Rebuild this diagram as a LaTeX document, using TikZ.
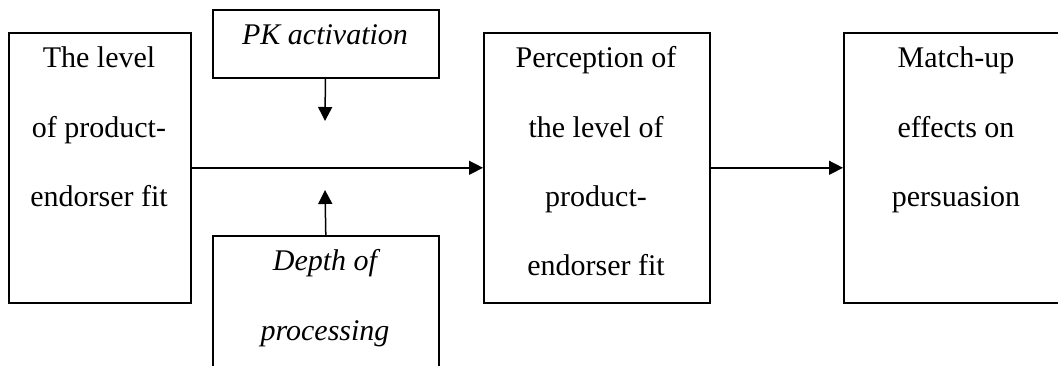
\documentclass[tikz,border=0pt]{standalone}
\usepackage{fontspec}
\setmainfont{Liberation Serif}
\usetikzlibrary{arrows.meta}
\tikzset{
  boxnode/.style={draw=black, line width=1.6pt, inner sep=0pt, anchor=north west},
  txt/.style={anchor=base, inner sep=0pt, font=\fontsize{30}{30}\selectfont},
  itxt/.style={txt, font=\fontsize{30}{30}\selectfont\itshape},
  conn/.style={line width=1.5pt, -{Triangle[length=14pt,width=14pt]}}
}
\begin{document}
\begin{tikzpicture}[x=1pt,y=-1pt]
\useasboundingbox (0,0) rectangle (1058,366);
\clip (0,0) rectangle (1058,366);
% boxes
\node[boxnode, minimum width=182pt, minimum height=270pt] (b1) at (8,32) {};
\node[boxnode, minimum width=226pt, minimum height=68pt] (pk) at (212,9) {};
\node[boxnode, minimum width=226pt, minimum height=160pt] (dp) at (212,235) {};
\node[boxnode, minimum width=226pt, minimum height=270pt] (b3) at (483,32) {};
\node[boxnode, minimum width=226pt, minimum height=270pt] (b4) at (843,32) {};
% texts
\node[txt] (t1a) at (99,68) {The level};
\node[txt] (t1b) at (99,137.5) {of product-};
\node[txt] (t1c) at (99,207) {endorser fit};
\node[itxt] (tpk) at (325,45) {PK activation};
\node[itxt] (tdpa) at (325,270) {Depth of};
\node[itxt] (tdpb) at (325,340) {processing};
\node[txt] (t3a) at (596,68) {Perception of};
\node[txt] (t3b) at (596,137.5) {the level of};
\node[txt] (t3c) at (596,207) {product-};
\node[txt] (t3d) at (596,276) {endorser fit};
\node[txt] (t4a) at (956,68) {Match-up};
\node[txt] (t4b) at (956,137.5) {effects on};
\node[txt] (t4c) at (956,207) {persuasion};
% connectors
\coordinate (pkend) at (325,121);
\coordinate (dpend) at (325,190);
\draw[conn] (b1) -- (b3);
\draw[conn] (b3) -- (b4);
\draw[conn] (pk) -- (pkend);
\draw[conn] (dp.north) -- (dpend);
\end{tikzpicture}
\end{document}
